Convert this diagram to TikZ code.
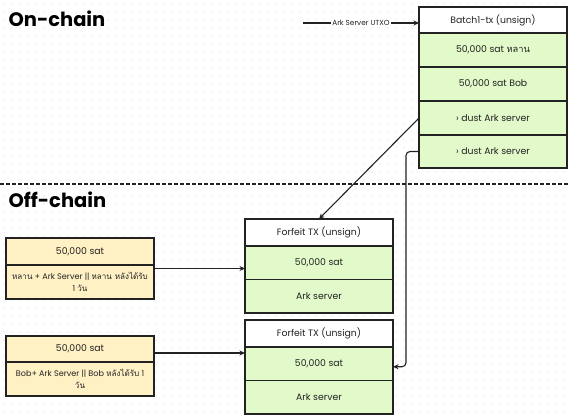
\documentclass[tikz,border=0pt]{standalone}
\usepackage{fontspec}
\setmainfont{Poppins}
\newfontfamily\thaifont[Script=Thai]{Loma}
\newcommand{\thai}[1]{{\thaifont #1}}
\usetikzlibrary{arrows.meta,positioning}

\definecolor{okgreen}{HTML}{E2F9C9}
\definecolor{lockyellow}{HTML}{FFF1C4}
\definecolor{ink}{HTML}{222222}
\definecolor{dotgray}{HTML}{D6D6D6}

\tikzset{
  cell/.style={draw=ink, line width=1.1pt, minimum width=148pt, inner sep=0pt,
    outer sep=0pt, anchor=north west, text=ink, font=\fontsize{9.3}{11}\selectfont},
  headcell/.style={cell, fill=white, minimum height=27pt},
  outcell/.style={cell, fill=okgreen, minimum height=33.5pt},
  lockcell/.style={cell, fill=lockyellow, minimum height=34pt,
    font=\fontsize{8.1}{12.5}\selectfont},
  title/.style={anchor=base west, text=black, font=\bfseries\fontsize{19.5}{22}\selectfont},
  link/.style={draw=ink, line width=1.1pt, -{Stealth[length=5.5pt,width=5pt]}}
}

\begin{document}
\begin{tikzpicture}[x=1pt,y=-1pt]

    \useasboundingbox (0,0) rectangle (569,415);
    \foreach \gx in {4,12,...,564}
      \foreach \gy in {4,12,...,412}
        \fill[dotgray] (\gx,\gy) circle (0.55pt);

    % titles and split line
    \node[title] (onTitle) at (5,26) {On-chain};
    \node[title] (offTitle) at (5,207) {Off-chain};
    \coordinate (splitL) at (0,184);
    \coordinate (splitR) at (569,184);
    \draw[ink, line width=1.3pt, dash pattern=on 4pt off 2pt] (splitL) -- (splitR);

    % batch tx
    \node[headcell, minimum height=26pt] (batchHead) at (419,7) {Batch1-tx (unsign)};
    \node[outcell, below=0pt of batchHead, minimum height=34pt] (batchA) {50,000 sat \thai{หลาน}};
    \node[outcell, below=0pt of batchA, minimum height=34pt] (batchB) {50,000 sat Bob};
    \node[outcell, below=0pt of batchB, minimum height=34pt] (dust1) {› dust Ark server};
    \node[outcell, below=0pt of dust1, minimum height=33pt] (dust2) {› dust Ark server};

    % forfeit tx
    \node[headcell] (fee1Head) at (245,219) {Forfeit TX (unsign)};
    \node[outcell, below=0pt of fee1Head] (fee1Sat) {50,000 sat};
    \node[outcell, below=0pt of fee1Sat] (fee1Ark) {Ark server};

    \node[headcell] (fee2Head) at (245,320) {Forfeit TX (unsign)};
    \node[outcell, below=0pt of fee2Head] (fee2Sat) {50,000 sat};
    \node[outcell, below=0pt of fee2Sat] (fee2Ark) {Ark server};

    % vtxo scripts
    \node[cell, fill=lockyellow, minimum height=27pt] (lock1Head) at (6,238) {50,000 sat};
    \node[lockcell, below=0pt of lock1Head, align=center]
      (lock1Body) {\thai{หลาน} + Ark Server || \thai{หลาน หลังได้รับ}\\1 \thai{วัน}};

    \node[cell, fill=lockyellow, minimum height=26pt] (lock2Head) at (6,336) {50,000 sat};
    \node[lockcell, below=0pt of lock2Head, align=center]
      (lock2Body) {Bob+ Ark Server || Bob \thai{หลังได้รับ} 1\\\thai{วัน}};

    % connectors
    \coordinate (utxo) at (303,23);
    \draw[link] (utxo) -- node[fill=white, inner sep=1.5pt, text=ink,
      font=\fontsize{7.3}{8}\selectfont] {Ark Server UTXO} (utxo -| batchHead.west);

    \draw[link] (dust1.west) -- (fee1Head.north);
    \draw[link, rounded corners=4pt] (dust2.west) -- ++(-13,0) |- ([yshift=-3pt]fee2Sat.east);

    \draw[link] ([yshift=-17pt]lock1Head.east) -- ([yshift=-17pt]lock1Head.east -| fee1Sat.west);
    \draw[link] ([yshift=-4pt]lock2Head.east) -- ([yshift=-4pt]lock2Head.east -| fee2Head.west);

\end{tikzpicture}
\end{document}
